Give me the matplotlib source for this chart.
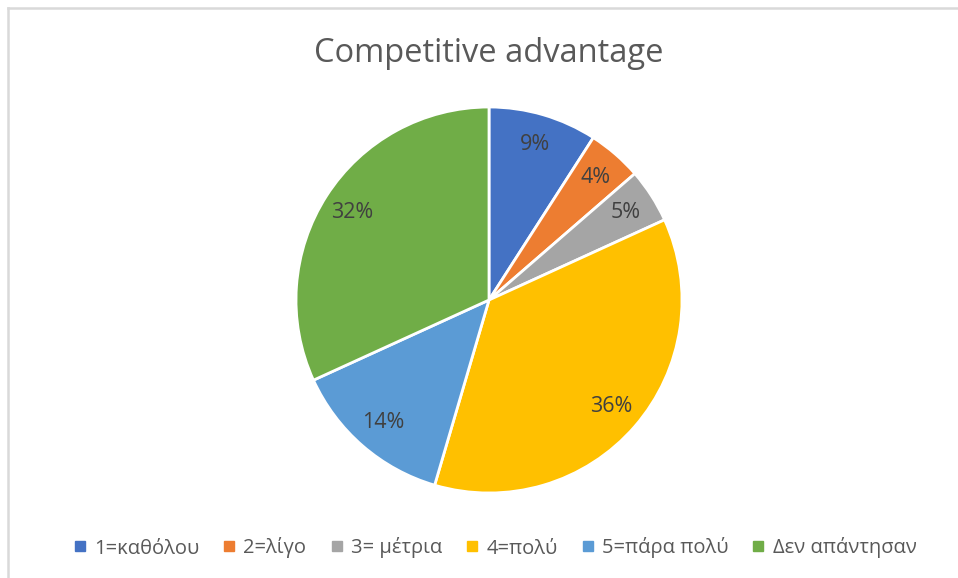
import matplotlib
matplotlib.use("Agg")
import matplotlib.pyplot as plt
from matplotlib.lines import Line2D
import numpy as np

plt.rcParams['font.family'] = ['Open Sans', 'DejaVu Sans']

categories = ['1=καθόλου', '2=λίγο', '3= μέτρια', '4=πολύ', '5=πάρα πολύ', 'Δεν απάντησαν']
counts = [2, 1, 1, 8, 3, 7]
pct_labels = ['9%', '4%', '5%', '36%', '14%', '32%']
colors = ['#4472C4', '#ED7D31', '#A5A5A5', '#FFC000', '#5B9BD5', '#70AD47']

text_color = '#595959'

fig = plt.figure(figsize=(9.58, 5.78), dpi=100)

# pie area
ax = fig.add_axes([296 / 958, 1 - 493 / 578, 386 / 958, 386 / 578])
wedges, _ = ax.pie(counts, colors=colors, startangle=90, counterclock=False,
                   radius=1, wedgeprops=dict(edgecolor='white', linewidth=2))
ax.set_xlim(-1, 1)
ax.set_ylim(-1, 1)
ax.set_aspect('equal')
ax.axis('off')

# percentage labels inside each slice
total = sum(counts)
start = 90.0
for w, lab in zip(counts, pct_labels):
    span = 360.0 * w / total
    mid = np.deg2rad(start - span / 2)
    r = 0.84
    ax.text(r * np.cos(mid), r * np.sin(mid), lab, ha='center', va='center',
            fontsize=15.5, color='#404040')
    start -= span

fig.text(489 / 958, 1 - 53 / 578, 'Competitive advantage', ha='center', va='center',
         fontsize=23.5, color=text_color)

handles = [Line2D([], [], marker='s', linestyle='none', markersize=6.5,
                  markerfacecolor=c, markeredgecolor=c) for c in colors]
fig.legend(handles, categories, loc='center', bbox_to_anchor=(495 / 958, 1 - 548 / 578),
           ncol=6, frameon=False, fontsize=14.5, labelcolor=text_color,
           handlelength=0.6, handletextpad=0.4, columnspacing=1.2)

# chart border (only top and left edges visible)
fig.add_artist(Line2D([8 / 958, 1], [1 - 8 / 578, 1 - 8 / 578], color='#D9D9D9', linewidth=1.8))
fig.add_artist(Line2D([8 / 958, 8 / 958], [0, 1 - 8 / 578], color='#D9D9D9', linewidth=1.8))

fig.savefig('out.png', dpi=100)
